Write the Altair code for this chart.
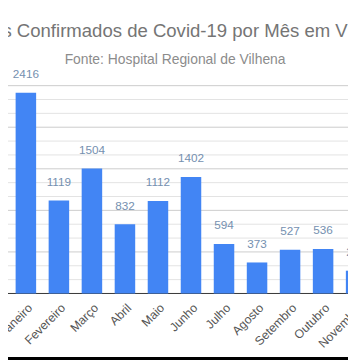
import altair as alt
import pandas as pd

months = ["Dezembro", "Janeiro", "Fevereiro", "Março", "Abril", "Maio", "Junho",
          "Julho", "Agosto", "Setembro", "Outubro", "Novembro"]
cases = [645, 2416, 1119, 1504, 832, 1112, 1402, 594, 373, 527, 536, 274]
title_text = "Casos Confirmados de Covid-19 por Mês em Vilhena"
subtitle_text = "Fonte: Hospital Regional de Vilhena"
major_grid = [500, 1000, 1500, 2000, 2500]
minor_grid = [i * 500 / 3 for i in range(1, 16) if i % 3 != 0]

df = pd.DataFrame({"mes": months, "casos": cases})

W, H = 348, 356
FONT = "Liberation Sans"

xs = alt.X("mes:N", sort=months, axis=None,
           scale=alt.Scale(domain=months, range=[-26, 366.8],
                           paddingInner=0.379, paddingOuter=0))
ys = alt.Scale(domain=[0, 2500], range=[288, 75.3])

base = alt.Chart(df)

minor = alt.Chart(pd.DataFrame({"g": minor_grid})).mark_rule(color="#e2e2e2", strokeWidth=1).encode(
    y=alt.Y("g:Q", scale=ys, axis=None))
major = alt.Chart(pd.DataFrame({"g": major_grid})).mark_rule(color="#cccccc", strokeWidth=1).encode(
    y=alt.Y("g:Q", scale=ys, axis=None))

bars = base.mark_bar(color="#4285F4").encode(x=xs, y=alt.Y("casos:Q", scale=ys, axis=None))

baseline = alt.Chart(pd.DataFrame({"z": [0]})).mark_rule(color="#333333", strokeWidth=1).encode(
    y=alt.Y("z:Q", scale=ys, axis=None))

values = base.mark_text(baseline="alphabetic", dy=-15, fontSize=12, font=FONT,
                        color="#7590b0").encode(
    x=xs, y=alt.Y("casos:Q", scale=ys, axis=None), text="casos:Q")

xlabels = base.mark_text(angle=315, align="right", baseline="middle", dx=-5.9, dy=12.3,
                         fontSize=12.5, font=FONT, color="#555555").encode(
    x=xs, y=alt.Y("zero:Q", scale=ys, axis=None), text="mes:N").transform_calculate(zero="0")

title = alt.Chart(pd.DataFrame({"t": [title_text]})).mark_text(
    fontSize=19, font=FONT, color="#757575", align="center", baseline="alphabetic").encode(
    text="t:N", x=alt.value(174), y=alt.value(25))

subtitle = alt.Chart(pd.DataFrame({"t": [subtitle_text]})).mark_text(
    fontSize=14.2, font=FONT, color="#8c8c8c", align="center", baseline="alphabetic").encode(
    text="t:N", x=alt.value(171), y=alt.value(53))

frame = alt.Chart(pd.DataFrame({"f": [1]})).mark_rect(color="black").encode(
    x=alt.value(0), x2=alt.value(W), y=alt.value(353), y2=alt.value(H))

chart = alt.layer(minor, major, baseline, bars, values, xlabels, title, subtitle, frame).properties(
    width=W, height=H, autosize=alt.AutoSizeParams(type="none"), padding=0
).configure_view(stroke=None)

chart.save("out.html", embed_options={"renderer": "svg", "actions": False})
